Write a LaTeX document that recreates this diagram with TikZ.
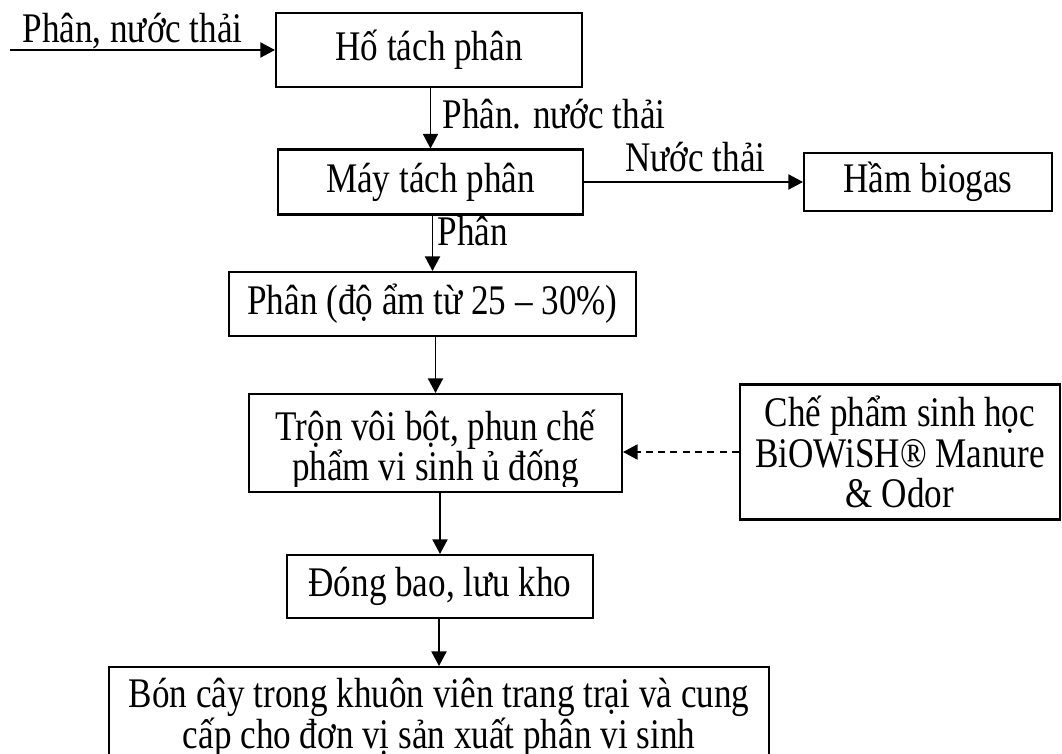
\documentclass[tikz,border=0pt]{standalone}
\usepackage{fontspec}
\setmainfont{Liberation Serif}[FakeStretch=0.833]
\usetikzlibrary{arrows.meta}

\begin{document}
\begin{tikzpicture}[
   box/.style={draw, line width=0.7pt, align=center, inner sep=2pt},
   flow/.style={-{Triangle[length=5pt,width=5.2pt]}, line width=0.5pt},
   lbl/.style={anchor=base west, inner sep=0pt},
   font={\fontsize{14.4}{13.8}\selectfont\lineskiplimit=-20pt}]
   %\draw[step=1cm,gray,very thin] (0,0) grid (13,9);
   \useasboundingbox (0,0) rectangle (12.744,9.048);

   \node [box, minimum width=3.672cm, minimum height=0.888cm] (hotach) at (5.148,8.448) {Hố tách phân};
   \node [box, minimum width=3.66cm, minimum height=0.78cm] (maytach) at (5.166,6.864) {Máy tách phân};
   \node [box, minimum width=2.976cm, minimum height=0.696cm] (biogas) at (11.136,6.864) {Hầm biogas};
   \node [box, minimum width=4.884cm, minimum height=0.768cm] (phan) at (5.19,5.4) {Phân (độ ẩm từ 25 – 30\%)};

   \node [box, minimum width=4.476cm, minimum height=1.176cm] (tron) at (5.226,3.732) {};
   \begin{scope}
      \clip (tron.north west) rectangle ([yshift=0.08cm]tron.south east);
      \node [align=center, inner sep=0pt] (trontxt) at ([yshift=-0.08cm]tron.center) {Trộn vôi bột, phun chế\\phẩm vi sinh ủ đống};
   \end{scope}

   \node [box, minimum width=3.84cm, minimum height=1.62cm] (chepham) at (10.8,3.624) {Chế phẩm sinh học\\BiOWiSH® Manure\\\& Odor};
   \node [box, minimum width=3.672cm, minimum height=0.756cm] (dongbao) at (5.28,2.01) {Đóng bao, lưu kho};
   \node [box, anchor=north, minimum width=7.92cm, minimum height=1.22cm] (boncay) at (5.268,1.056) {Bón cây trong khuôn viên trang trại và cung\\cấp cho đơn vị sản xuất phân vi sinh};

   % connectors
   \coordinate (vao) at (0.12,8.448);
   \draw [flow] (vao) -- (hotach.west);
   \draw [flow] (hotach.south -| maytach.north) -- (maytach.north);
   \draw [flow] (maytach) -- (biogas);
   \draw [flow] (maytach.south -| phan.north) -- (phan.north);
   \draw [flow] (phan.south -| tron.north) -- (tron.north);
   \draw [flow, dash pattern=on 2.4pt off 1.8pt] (chepham.west) -- (chepham.west -| tron.east);
   \draw [flow] (tron.south -| dongbao.north) -- (dongbao.north);
   \draw [flow] (dongbao.south -| boncay.north) -- (boncay.north);

   % labels
   \node [lbl] (lbvao) at (0.264,8.532) {Phân, nước thải};
   \node [lbl] (lbphan1) at (5.304,7.5) {Phân. nước thải};
   \node [anchor=base, inner sep=0pt] (lbnuoc) at (8.346,6.984) {Nước thải};
   \node [lbl] (lbphan2) at (5.244,6.096) {Phân};

\end{tikzpicture}
\end{document}
